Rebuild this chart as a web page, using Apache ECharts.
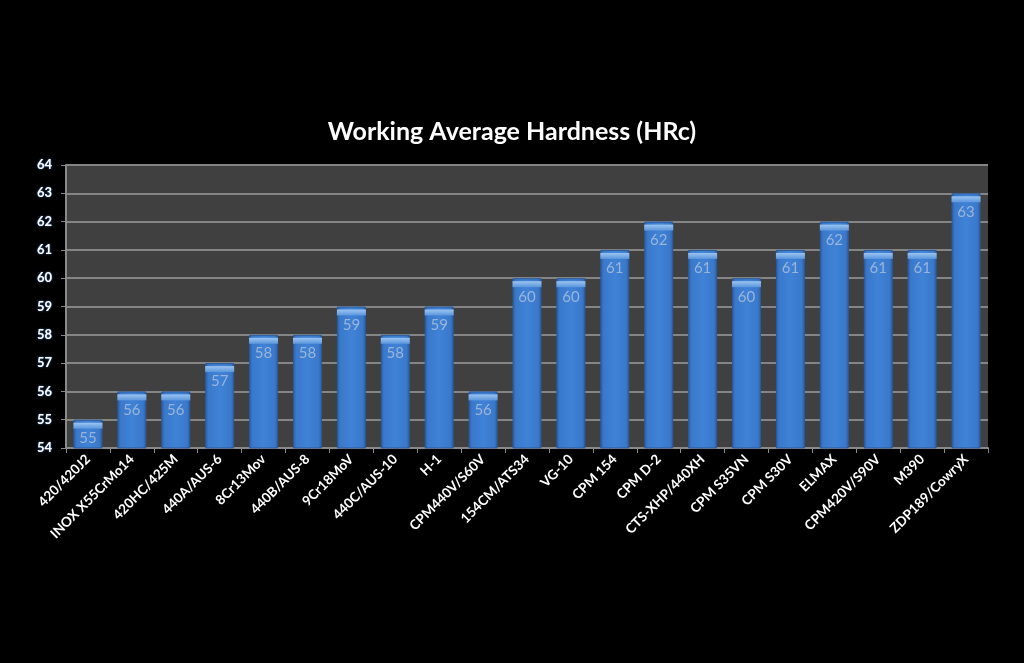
<!DOCTYPE html>
<html><head><meta charset="utf-8">
<script src="https://cdn.jsdelivr.net/npm/echarts@6/dist/echarts.min.js"></script>
<style>html,body{margin:0;padding:0;background:#000;}#c{width:1024px;height:663px;}</style>
</head><body><div id="c"></div>
<script>
const categories = ["420/420J2","INOX X55CrMo14","420HC/425M","440A/AUS-6","8Cr13Mov","440B/AUS-8","9Cr18MoV","440C/AUS-10","H-1","CPM440V/S60V","154CM/ATS34","VG-10","CPM 154","CPM D-2","CTS-XHP/440XH","CPM S35VN","CPM S30V","ELMAX","CPM420V/S90V","M390","ZDP189/CowryX"];
const hardness = [55,56,56,57,58,58,59,58,59,56,60,60,61,62,61,60,61,62,61,61,63];
const yMin = 54, yMax = 64, yStep = 1;

const chart = echarts.init(document.getElementById('c'));
const font = 'Lato, "Open Sans", sans-serif';
chart.setOption({
  backgroundColor: '#000',
  title: {
    text: 'Working Average Hardness (HRc)',
    left: 'center', top: 114,
    textStyle: { color: '#fff', fontSize: 25, fontWeight: 'bold', fontFamily: font }
  },
  grid: { left: 66, right: 36, top: 165, bottom: 215, backgroundColor: '#404040', show: true, borderWidth: 0 },
  xAxis: {
    type: 'category', data: categories,
    axisLine: { lineStyle: { color: '#8a8a8a', width: 2 } },
    axisTick: { show: true, length: 5, lineStyle: { color: '#8a8a8a' } },
    axisLabel: { interval: 0, rotate: 45, color: '#fff', fontWeight: 'bold', fontSize: 13.5, fontFamily: font, margin: 9 }
  },
  yAxis: {
    type: 'value', min: yMin, max: yMax, interval: yStep,
    axisLine: { show: true, lineStyle: { color: '#8a8a8a', width: 2 } },
    axisTick: { show: true, length: 5, lineStyle: { color: '#8a8a8a' } },
    axisLabel: { color: '#fff', fontWeight: 'bold', fontSize: 13, fontFamily: font, margin: 14,
      textShadowColor: '#4a8ad8', textShadowBlur: 2 },
    splitLine: { lineStyle: { color: '#858585', width: 2 } }
  },
  series: [
    {
      type: 'bar', data: hardness, barWidth: '66%',
      itemStyle: {
        color: new echarts.graphic.LinearGradient(0, 0, 1, 0, [
          { offset: 0, color: '#2b5fa6' },
          { offset: 0.12, color: '#3a79cc' },
          { offset: 0.5, color: '#3f82d6' },
          { offset: 0.88, color: '#3a79cc' },
          { offset: 1, color: '#2b5fa6' }
        ]),
        borderColor: '#2a5a9c', borderWidth: 1
      },
      label: { show: true, position: 'insideTop', distance: 11, color: '#9bb5d8', fontSize: 15, fontFamily: font }
    },
    {
      type: 'pictorialBar', data: hardness, barGap: '-100%', barWidth: '66%',
      symbol: 'rect', symbolSize: ['100%', 6], symbolPosition: 'end', symbolOffset: [0, '50%'],
      itemStyle: {
        color: new echarts.graphic.LinearGradient(0, 0, 0, 1, [
          { offset: 0, color: '#9cc4f0' },
          { offset: 1, color: '#5a96dd' }
        ])
      },
      z: 3, silent: true
    }
  ]
});
</script></body></html>
